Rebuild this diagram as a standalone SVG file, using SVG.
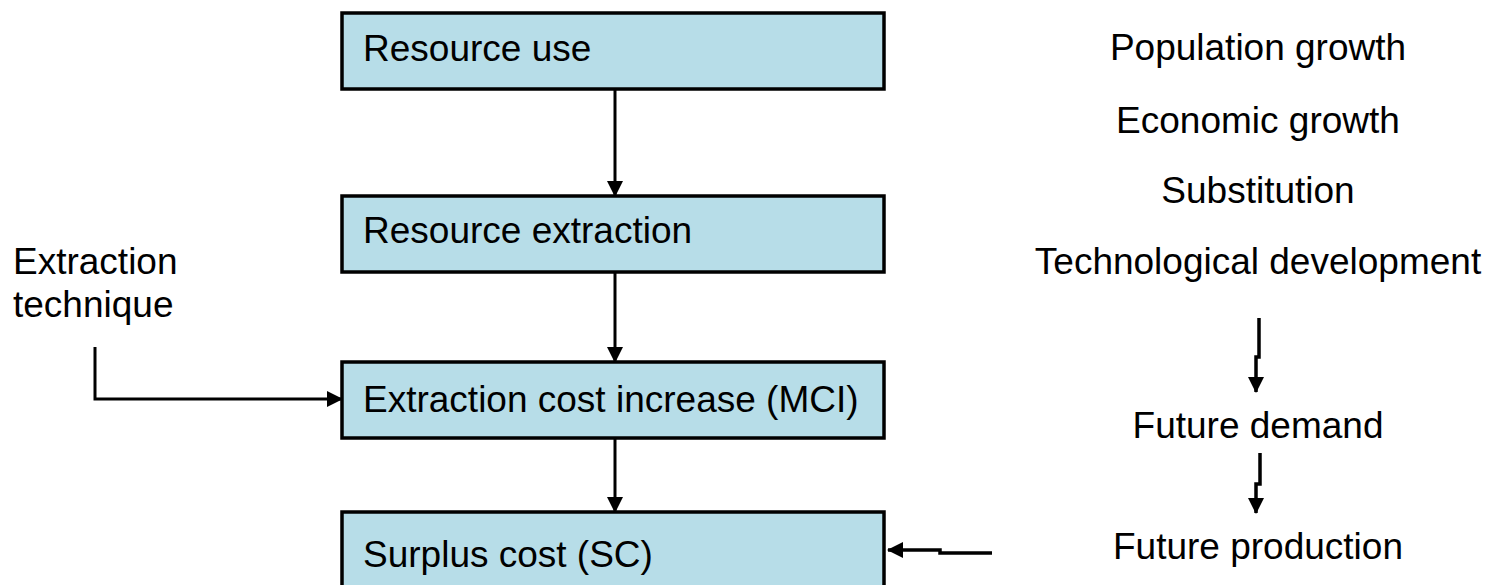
<svg xmlns="http://www.w3.org/2000/svg" width="1486" height="585" viewBox="0 0 1486 585">
<defs>
<style>
.box{fill:#B7DDE8;stroke:#000;stroke-width:3.5}
.t{font-family:"Liberation Sans",Arial,sans-serif;font-size:37px;fill:#000}
.c{text-anchor:middle}
.ln{fill:none;stroke:#000;stroke-width:3}
.lt{fill:none;stroke:#000;stroke-width:3.5}
</style>
<marker id="ah" markerUnits="userSpaceOnUse" markerWidth="16" markerHeight="16" viewBox="0 0 16 16" refX="15" refY="8" orient="auto">
<path d="M0,0 L16,8 L0,16 Z" fill="#000"/>
</marker>
</defs>
<rect width="1486" height="585" fill="#fff"/>
<g id="connectors">
<path class="ln" d="M615,89 V196" marker-end="url(#ah)"/>
<path class="ln" d="M615,272 V362" marker-end="url(#ah)"/>
<path class="ln" d="M615,438 V512" marker-end="url(#ah)"/>
<path class="ln" d="M95,347 V399 H342" marker-end="url(#ah)"/>
<path class="lt" d="M992,553 H940 V550 H888" marker-end="url(#ah)"/>
<path class="lt" d="M1259,318 V357 H1256 V392" marker-end="url(#ah)"/>
<path class="lt" d="M1260,453 V484 H1256 V513" marker-end="url(#ah)"/>
</g>
<g id="n1"><rect class="box" x="342" y="13" width="542" height="76"/><text class="t" x="363" y="61">Resource use</text></g>
<g id="n2"><rect class="box" x="342" y="196" width="542" height="76"/><text class="t" x="363" y="243">Resource extraction</text></g>
<g id="n3"><rect class="box" x="342" y="362" width="542" height="76"/><text class="t" x="363" y="412">Extraction cost increase (MCI)</text></g>
<g id="n4"><rect class="box" x="342" y="512" width="542" height="90"/><text class="t" x="363" y="567">Surplus cost (SC)</text></g>
<g id="left"><text class="t" x="13" y="274">Extraction</text><text class="t" x="13" y="317">technique</text></g>
<g id="right">
<text class="t c" x="1258" y="60">Population growth</text>
<text class="t c" x="1258" y="133">Economic growth</text>
<text class="t c" x="1258" y="203">Substitution</text>
<text class="t c" x="1258" y="274">Technological development</text>
<text class="t c" x="1258" y="438">Future demand</text>
<text class="t c" x="1258" y="559">Future production</text>
</g>
</svg>
